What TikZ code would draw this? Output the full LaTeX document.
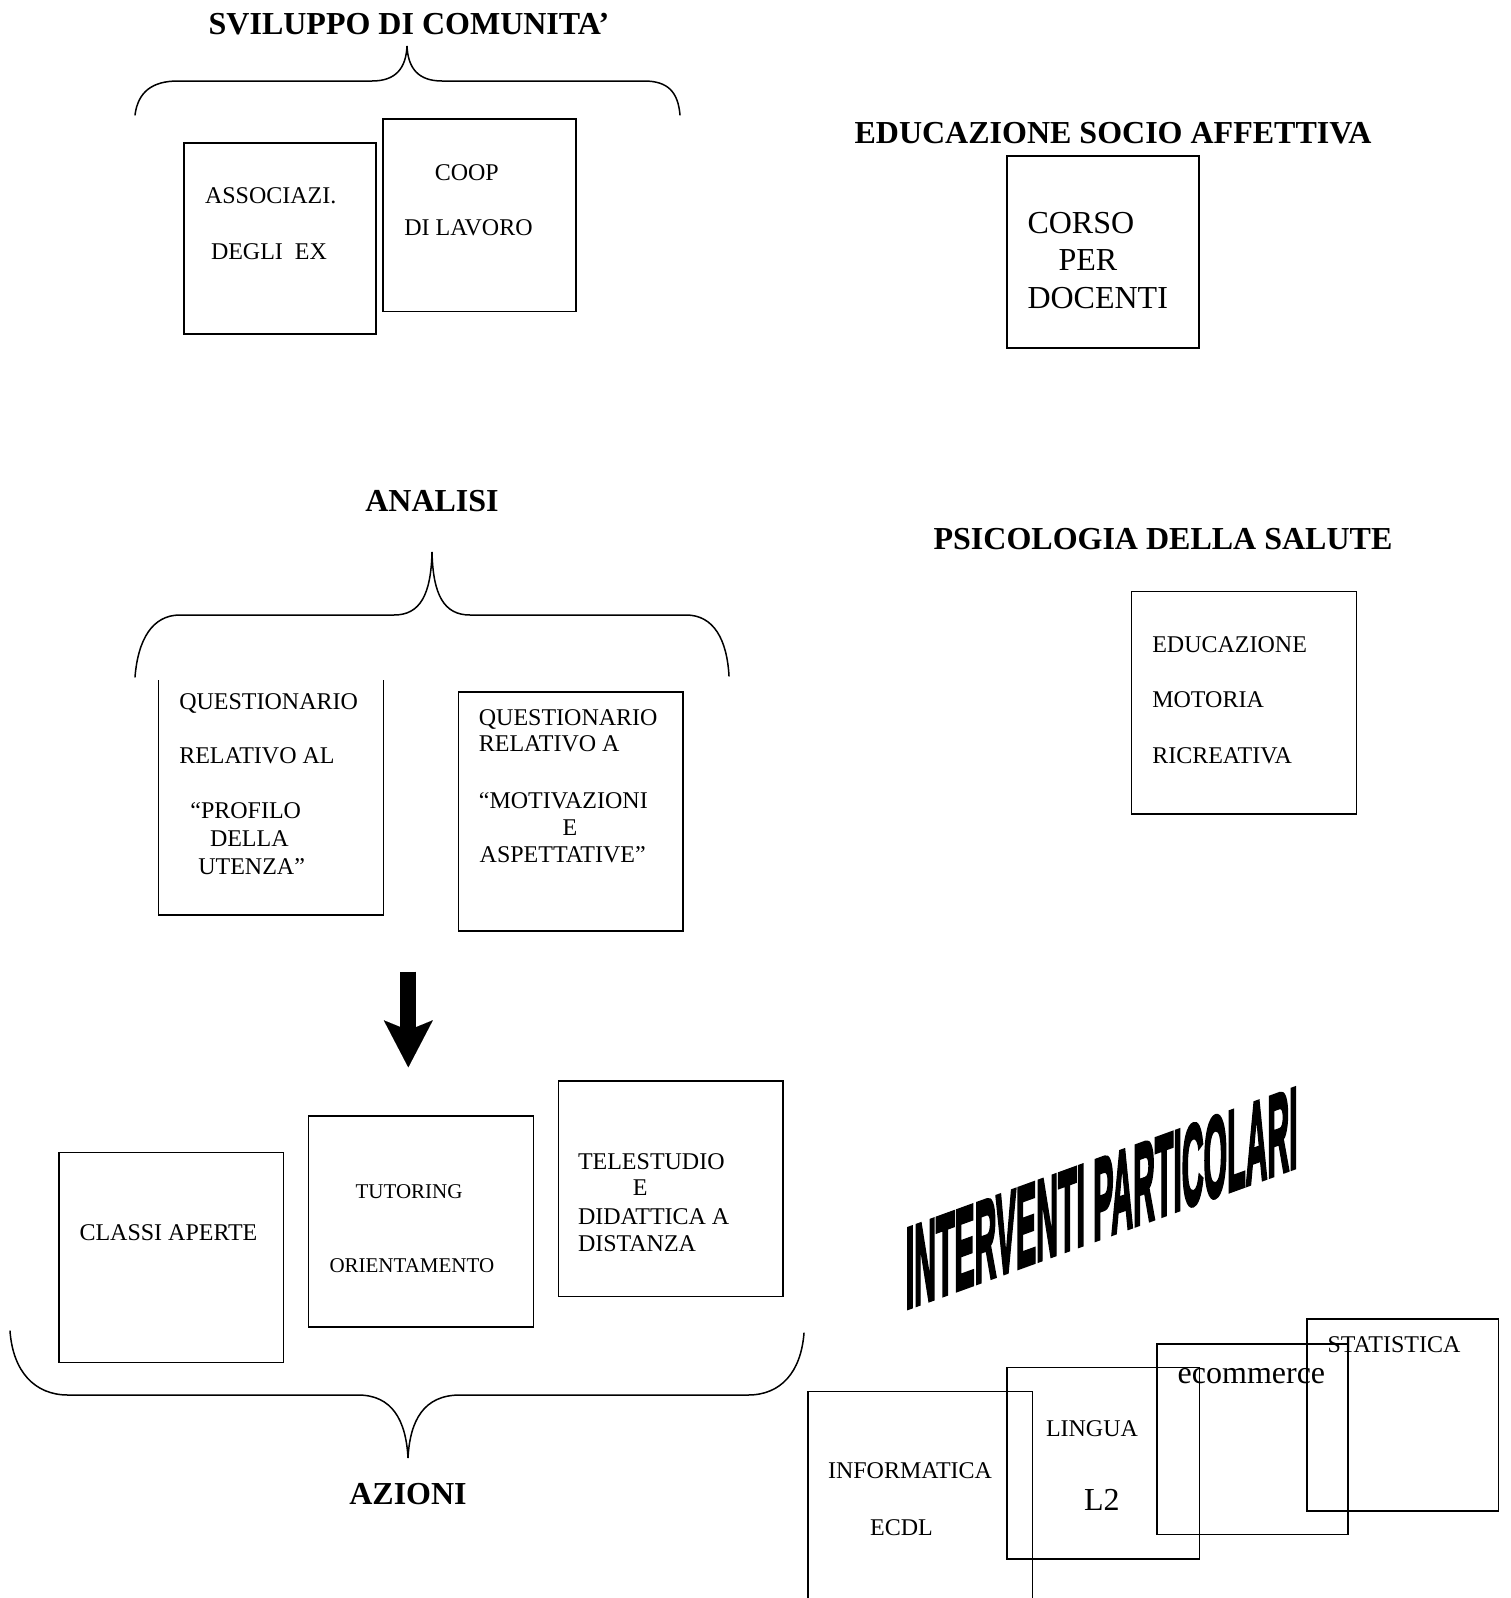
\documentclass[tikz,border=0pt]{standalone}
\usepackage{fontspec}
\setmainfont{Liberation Serif}
\newfontfamily\wafont{Liberation Sans}[BoldFeatures={FakeBold=4}]
\usetikzlibrary{arrows.meta}
\tikzset{
 box/.style={draw, line width=1.6pt, inner sep=0pt, outer sep=0pt},
 openbox/.style={inner sep=0pt, outer sep=0pt},
 bracepath/.style={line width=1.5pt, line cap=round},
 txt/.style={inner sep=0pt, outer sep=0pt, anchor=base west, font=\fontsize{24}{28}\selectfont},
 txtbig/.style={txt, font=\fontsize{32}{36}\selectfont},
 txtsmall/.style={txt, font=\fontsize{21}{25}\selectfont},
 ttl/.style={inner sep=0pt, outer sep=0pt, anchor=base, font=\fontsize{32}{36}\selectfont\bfseries},
 bigarrow/.style={line width=16pt, -{Stealth[length=47pt, width=49pt, inset=10pt, line width=0.01pt]}},
}
\begin{document}
\begin{tikzpicture}[x=1pt,y=-1pt]
\path[use as bounding box, fill=white] (0,0) rectangle (1510,1598);

% ---- SVILUPPO DI COMUNITA'
\node[ttl] (tsvil) at (409,34) {SVILUPPO DI COMUNITA’};
\draw[bracepath] (135,115) .. controls (138,92) and (152,81) .. (178,81) -- (372,81)
  .. controls (396,81) and (406,68) .. (407,46)
  .. controls (408,68) and (418,81) .. (442,81) -- (644,81)
  .. controls (668,81) and (678,92) .. (680,115);
\node[box, minimum width=192pt, minimum height=191pt] (assoc) at (280,238.5) {};
\node[box, minimum width=193pt, minimum height=192.5pt] (coop) at (479.5,215.25) {};
\node[txt] (assoc1) at (205,203.3) {ASSOCIAZI.};
\node[txt] (assoc2) at (211,259.3) {DEGLI~~EX};
\node[txt] (coop1) at (434.8,180) {COOP};
\node[txt] (coop2) at (404.4,235) {DI LAVORO};

% ---- EDUCAZIONE SOCIO AFFETTIVA
\node[ttl] (tedsoc) at (1113,143.3) {EDUCAZIONE SOCIO AFFETTIVA};
\node[box, minimum width=192pt, minimum height=192pt] (corso) at (1103,252) {};
\node[txtbig] (corso1) at (1027.5,233.3) {CORSO};
\node[txtbig] (corso2) at (1058.6,270) {PER};
\node[txtbig] (corso3) at (1027.5,308.3) {DOCENTI};

% ---- ANALISI
\node[ttl] (tanalisi) at (432,511.5) {ANALISI};
\draw[bracepath] (135,677) .. controls (138,640) and (152,615) .. (180,615) -- (394,615)
  .. controls (420,615) and (431,595) .. (432,552)
  .. controls (433,595) and (444,615) .. (470,615) -- (686,615)
  .. controls (714,615) and (727,640) .. (729,676);
\node[openbox, minimum width=225pt, minimum height=235pt] (quest1) at (271,797.5) {};
\draw[line width=1.6pt] (quest1.north west) -- (quest1.south west) -- (quest1.south east) -- (quest1.north east);
\node[txt] (q1a) at (179.3,709.3) {QUESTIONARIO};
\node[txt] (q1b) at (179.3,763.3) {RELATIVO AL};
\node[txt] (q1c) at (190.4,818.3) {“PROFILO};
\node[txt] (q1d) at (210,846) {DELLA};
\node[txt] (q1e) at (198.3,874.3) {UTENZA”};
\node[box, minimum width=224.5pt, minimum height=239pt] (quest2) at (570.75,811.5) {};
\node[txt] (q2a) at (478.9,725) {QUESTIONARIO};
\node[txt] (q2b) at (478.9,751.7) {RELATIVO A};
\node[txt] (q2c) at (478.9,808.3) {“MOTIVAZIONI};
\node[txt] (q2d) at (562.7,835) {E};
\node[txt] (q2e) at (479.7,862.7) {ASPETTATIVE”};

% ---- PSICOLOGIA DELLA SALUTE
\node[ttl] (tpsico) at (1163,549.3) {PSICOLOGIA DELLA SALUTE};
\node[box, minimum width=225pt, minimum height=222.5pt] (educ) at (1244,702.75) {};
\node[txt] (ed1) at (1152.3,652.3) {EDUCAZIONE};
\node[txt] (ed2) at (1152.3,707.3) {MOTORIA};
\node[txt] (ed3) at (1152.3,763.3) {RICREATIVA};

% ---- arrow
\coordinate (arrS) at (408.3,971.7);
\coordinate (arrE) at (408.3,1067.3);
\draw[bigarrow] (arrS) -- (arrE);

% ---- AZIONI
\node[box, minimum width=224.5pt, minimum height=210pt] (classi) at (171.25,1257.5) {};
\node[txt] (cl1) at (79.5,1240.4) {CLASSI APERTE};
\node[box, minimum width=225pt, minimum height=211pt] (tutor) at (421,1221.5) {};
\node[txtsmall] (tu1) at (355.6,1198.6) {TUTORING};
\node[txtsmall] (tu2) at (329.5,1272.5) {ORIENTAMENTO};
\node[box, minimum width=224.5pt, minimum height=215.5pt] (tele) at (670.75,1188.75) {};
\node[txt] (te1) at (578,1169) {TELESTUDIO};
\node[txt] (te2) at (632.8,1195.7) {E};
\node[txt] (te3) at (578,1224.3) {DIDATTICA A};
\node[txt] (te4) at (578,1251) {DISTANZA};
\draw[bracepath] (10,1331) .. controls (13,1372) and (35,1395) .. (68,1395) -- (358,1395)
  .. controls (392,1395) and (406,1420) .. (408,1458)
  .. controls (410,1420) and (424,1395) .. (460,1395) -- (748,1395)
  .. controls (781,1395) and (801,1372) .. (804,1333);
\node[ttl] (tazioni) at (408,1504.6) {AZIONI};

% ---- INTERVENTI PARTICOLARI
\begin{scope}[shift={(1101.7,1237.5)}, yslant=0.363, xscale=0.264]
\node[transform shape, inner sep=0pt, outer sep=0pt, anchor=base,
  font=\wafont\bfseries\fontsize{114.5}{120}\selectfont] (interv) at (0,0) {INTERVENTI PARTICOLARI};
\end{scope}

\node[box, minimum width=224.3pt, minimum height=248.5pt] (infor) at (920.15,1515.75) {};
\node[txt] (in1) at (828,1478.3) {INFORMATICA};
\node[txt] (in2) at (870.2,1535) {ECDL};
\node[box, minimum width=192.3pt, minimum height=191.5pt] (lingua) at (1103.15,1463.25) {};
\node[txt] (li1) at (1046,1436.7) {LINGUA};
\node[txtbig] (li2) at (1084,1510) {L2};
\node[box, minimum width=191.3pt, minimum height=190.5pt] (ecomm) at (1252.35,1439.25) {};
\node[txtbig] (ec1) at (1177.7,1383) {ecommerce};
\node[box, minimum width=191.8pt, minimum height=192pt] (stat) at (1402.6,1415) {};
\node[txt] (st1) at (1327.6,1352) {STATISTICA};
\end{tikzpicture}
\end{document}
